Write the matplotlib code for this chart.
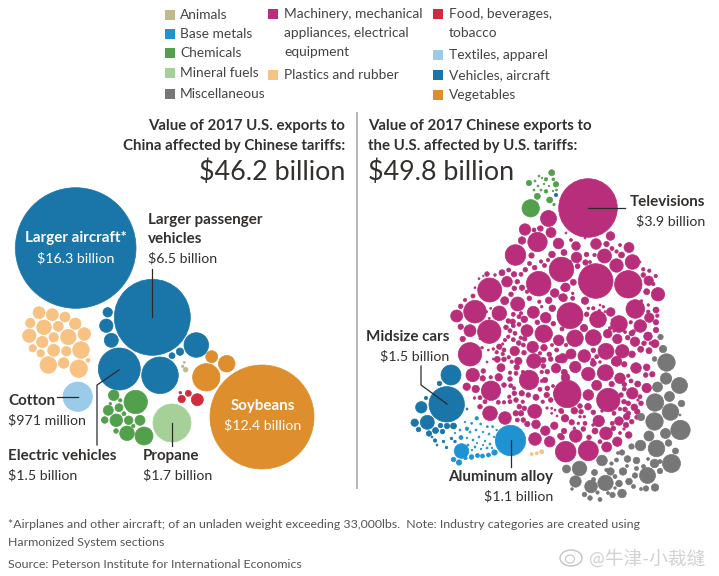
import matplotlib
matplotlib.use("Agg")
import matplotlib.pyplot as plt
from matplotlib.patches import Circle, Ellipse, Rectangle

plt.rcParams["font.family"] = ["Lato", "Noto Sans CJK SC", "DejaVu Sans"]

# bubbles as (x, y, r) in image pixels
aircraft_left = [
    (75.7, 248, 60.3), (152.3, 317.3, 38), (119.3, 369, 21), (160, 375.3, 18.3), (196.3, 345, 12.3),
    (107.7, 312.3, 4.7), (106.3, 325.7, 6.7), (111.3, 340.3, 7), (172, 355.7, 3), (180, 351.7, 3.7),
]
vegetables_left = [(262, 417, 52), (206.3, 377.3, 13.7), (226.7, 363.7, 8.3), (211.7, 356.7, 6)]
food_left = [(197.3, 399.7, 6), (181.7, 399, 3.7), (188.3, 393.3, 3), (180.3, 392.7, 1.3)]
textiles_left = [(77.7, 396.7, 14.7)]
fuels_left = [(172, 423, 19)]
animals_left = [(184.3, 362.3, 1), (182.7, 366.3, 1.3), (185.7, 369.7, 2.3)]
chemicals_left = [
    (135.7, 402, 11.7), (144, 436, 9), (127, 433.3, 7.3), (116.3, 420.3, 6.3), (113.7, 395.3, 5.3),
    (108.3, 410.3, 5), (119, 407.7, 4), (104.7, 420, 3.3), (128.7, 420.3, 4.3), (140, 420.3, 5),
    (116, 431, 2.3), (124, 413.7, 2), (120.3, 400.3, 1.7), (110.3, 403.7, 1.3), (133.3, 426, 1.7),
]
plastics_left = [
    (39, 312.7, 6), (52.3, 314.7, 6), (65, 317, 5), (30.3, 323, 4.7), (75.3, 323.7, 5.7),
    (44, 327.3, 7.3), (58.3, 326.3, 5), (29.3, 335.7, 6.7), (84.3, 334, 6.3), (68.3, 337, 7.7),
    (42.3, 342, 5.7), (53.7, 337.3, 4.7), (32.7, 348.3, 3.7), (53.7, 350.3, 6), (66.3, 351.3, 4.7),
    (40.7, 353.3, 3.7), (81, 350, 8.3), (48.3, 365, 8.3), (63.7, 363, 5.3), (78.7, 368.7, 8.7),
    (88, 360.3, 2),
]

# machinery, top of the heap
machinery_top = [
    (588, 208, 29.3), (548.5, 218.5, 8), (525, 229.5, 5.7), (537.5, 242, 9.7), (551, 232.5, 5),
    (522, 240.5, 3.7), (558.5, 243.5, 5.3), (540.5, 228.5, 2.7), (534, 230, 2), (515.5, 255, 10.3),
    (576, 246, 4.3), (596, 244, 5.3), (610.5, 236, 4.3), (606.5, 244, 2.7), (629, 247.5, 5),
    (604.5, 256, 7), (632.5, 262, 7.3), (616.5, 265.5, 6.7), (576.5, 257.5, 5.3), (561.5, 269.5, 12.3),
    (552, 254.5, 3.3), (564, 252.5, 3), (531.5, 255.5, 2.7), (586.5, 254.5, 2.3), (621.5, 255, 3),
    (529.5, 263.5, 2), (541, 261.5, 1.7), (548, 260, 1.7), (544.5, 265.5, 2), (585.5, 262.5, 2.7),
    (594.5, 255, 1.7), (586.5, 270, 1.7), (612, 248.5, 2), (616.5, 251.5, 1.7), (577.5, 266.5, 2),
    (538.5, 228, 1.2), (566, 233, 1), (571, 240, 1.5), (585, 238, 1), (620, 245, 1.5),
    (570, 262, 1.5), (590, 262, 1.5), (640, 262, 1),
]
# upper left block
machinery_a = [
    (489.7, 290, 12), (538.7, 283.7, 12.3), (475, 311.7, 11.3), (499.3, 313.3, 7.3), (517.7, 304, 7),
    (489.3, 331.7, 11.7), (470, 354.3, 11.7), (470, 330.7, 6), (533.3, 312.3, 6), (545.7, 317.7, 5.3),
    (543.7, 333.7, 8.7), (527, 330.7, 6), (558.7, 340.3, 5.3), (532.7, 347, 5.7), (507, 281.7, 5.3),
    (504.7, 300.7, 4), (554.7, 293, 4.3), (548.7, 300.3, 3.3), (552.3, 308.3, 3.3), (561.7, 297.3, 3),
    (564, 287.7, 3.3), (502, 272.7, 3), (508.7, 270, 2), (514, 274.3, 2.7), (521, 274.3, 2),
    (525.3, 269.7, 2.3), (534.7, 267.7, 2.3), (517.3, 281.7, 2.3), (522, 287.7, 2.7), (514.3, 288.3, 2.3),
    (511, 294.3, 2.3), (487, 274, 2.3), (495, 275, 1.3), (473, 296, 2), (465, 300, 1.7),
    (460.7, 306.3, 2.3), (475, 287.7, 1), (479, 278.7, 1), (483.3, 276, 0.8), (529.3, 298.3, 2.3),
    (527, 291.7, 1.7), (539.3, 301.7, 1.7), (541.7, 306.7, 1.3), (513.3, 314.3, 2), (521, 313.3, 1.7),
    (519, 316.7, 2), (524.3, 319.3, 3.3), (512.7, 321.7, 2.7), (508.3, 321, 2.3), (506, 327.3, 2.3),
    (513.3, 325.7, 2), (519, 324.3, 2), (537.3, 322.3, 2.3), (553.3, 323.7, 2.3), (559, 318.3, 1.7),
    (510, 330.7, 2), (515, 333.3, 2), (508.3, 336.7, 1.7), (520.7, 337.7, 1.7), (513.3, 339.7, 2),
    (518.7, 343, 2.3), (524.7, 338.7, 2.3), (523.3, 345, 2), (505, 340, 1.7), (502.7, 344, 1.2),
    (499.3, 346.7, 2.7), (504, 350, 2), (514.7, 351, 4.7), (524, 352.7, 2.3), (496.7, 352.3, 1.7),
    (502.7, 354, 1.7), (497.3, 359.3, 3), (504, 359.3, 2.3), (508.7, 357.3, 1.7), (511.7, 361.7, 1.7),
    (518.3, 361, 3.7), (534, 361, 7.3), (544, 347.7, 3.3), (549.3, 354.3, 2.3), (540, 353.3, 1.7),
    (543.3, 360, 2.7), (550.7, 359, 2.3), (559, 359, 3.7), (556.7, 350, 2), (552, 345, 1.5),
    (482, 347.7, 1.3), (488.3, 350, 1), (493.3, 349, 1.3), (486.7, 311.7, 1), (490.7, 308.3, 1),
    (489.3, 318.3, 1), (480, 338.7, 1), (462.7, 339, 2.7), (460.7, 326.7, 2.7), (456.7, 316, 6),
    (493.3, 359, 1), (487, 362, 1),
]
# upper right block
machinery_b = [
    (595.7, 281, 17.3), (628.3, 284.3, 13.7), (635.3, 309, 9.3), (570, 315.7, 13), (598, 319.3, 8.3),
    (619, 324, 8.3), (658, 294.3, 6.7), (648.7, 280.7, 4.7), (646.7, 291.7, 3), (585, 300.7, 3.7),
    (565.7, 287.3, 4.3), (573.3, 282.3, 3), (563.3, 297.7, 4), (572.7, 298.3, 2), (572.7, 293.3, 1.3),
    (610.7, 312, 4.3), (649.3, 317.7, 4.7), (640.3, 326, 6.3), (648, 336.3, 4.3), (635, 341.7, 4.7),
    (617.3, 339, 4.7), (607.7, 333.7, 4.3), (593.3, 337.7, 8), (575, 338.3, 8.3), (584, 328, 3.7),
    (622.3, 351.3, 6.7), (606, 351.3, 8), (584.3, 356, 6.3), (571, 354, 5), (655, 343.7, 4),
    (640.7, 349.3, 3), (649, 350.7, 3), (632, 354.3, 3.3), (616.7, 361.3, 5), (593.3, 350.3, 2.3),
    (596.7, 356.7, 2), (592.7, 360, 1.7), (562.7, 358.3, 4.7), (656, 322.3, 2.7), (656, 330, 2.7),
    (657.3, 315.7, 1.7), (656, 310, 3), (648.3, 311.7, 1.7), (648.3, 305, 1.3), (630.7, 322.3, 1.7),
    (633.3, 331.7, 2), (631.7, 333.3, 2.7), (593.3, 308.3, 1.7), (603.3, 306.7, 1.3), (600, 305, 1),
    (605, 311.7, 1), (599.3, 310.7, 1.3), (586.7, 314.3, 2.3), (588.3, 308.3, 1.3), (610, 328.3, 1.7),
    (627.7, 337.7, 2.3), (644, 343.3, 2.3), (650.7, 343.3, 1.7), (643.3, 275, 2.3), (643.3, 269.3, 1.7),
    (649.3, 270.7, 1.7), (655.7, 276, 1.7), (653.3, 284, 1.7), (577.7, 266, 2.3), (642.7, 305, 1),
    (641.5, 301, 1.3), (612, 320, 1), (631, 313, 1), (625, 332, 1.5), (614, 331, 1.2),
    (562, 329, 2), (566, 345, 1.7),
]
# lower left block
machinery_c = [
    (529, 380, 9.7), (491, 390.7, 9.7), (472.7, 375, 6.7), (490, 413.3, 7.3), (505, 418, 6.3),
    (534.7, 411.3, 7), (535, 439, 6.3), (549.7, 441.7, 5.3), (545.3, 430.7, 4.7), (536, 424.3, 4.3),
    (554.3, 425.7, 3.7), (466.7, 386.7, 3.7), (475.7, 389, 3.7), (482.7, 378.3, 2.7), (483.3, 371, 2.3),
    (498.7, 377.3, 3.7), (501, 367.7, 4), (490.7, 377.3, 1.7), (504, 385, 2.3), (510.7, 385.7, 2),
    (510, 379, 2.3), (516, 373.3, 2), (510, 372.7, 1.7), (516.7, 367.3, 2.7), (514.3, 393.3, 2.3),
    (514, 388.3, 1.7), (498.3, 402.3, 2), (504, 402.3, 1.7), (510, 401.7, 2), (516, 400, 2.3),
    (522.7, 401.7, 1.7), (509.3, 396.7, 1.7), (521.7, 393.3, 2.7), (528.3, 395, 2.3), (536, 397.3, 3),
    (540, 389.3, 2), (546.7, 395, 2.7), (547.3, 388.3, 2.3), (545, 380, 2.7), (550.7, 400, 2.3),
    (542.7, 401.7, 1.7), (519.3, 406.7, 2.3), (524.3, 408.3, 2.3), (515.7, 413.3, 2.7), (521, 413.3, 2.7),
    (517.3, 420, 2), (523.3, 420, 2.3), (527.3, 424, 2.7), (485, 401.7, 2), (480, 397.7, 2),
    (480, 406.7, 2.3), (474.5, 398, 1.3), (556, 368.3, 4.7), (561.7, 437.3, 2.7), (547.3, 371.7, 2.3),
    (543.3, 366, 2.3), (565.5, 377.5, 4.3), (561.7, 411.7, 2), (551.7, 408.3, 1), (555, 410, 1),
    (551.7, 413.3, 1), (557, 416, 1), (547, 408, 1.2), (541.7, 372, 1.7), (553, 386, 1.5),
    (555, 393, 1.5), (523, 372, 1.7), (541.7, 381, 1.5),
]
# lower right block
machinery_d = [
    (567.3, 394, 13.7), (608.3, 400, 11.7), (575.3, 367, 5.7), (588.3, 374, 6.7), (605.3, 372.7, 8),
    (620, 378.3, 5.3), (636, 368, 5.3), (596.7, 385.3, 5), (588.3, 395, 5.3), (632.3, 393.3, 5.7),
    (646.7, 388, 4.7), (598.7, 421, 5.7), (619, 421, 4.3), (606, 433.3, 6.3), (617.3, 441.7, 4.7),
    (606.7, 447, 5), (575.7, 436, 6.3), (588.3, 450.7, 10), (565.7, 451.7, 10.3), (588, 406.7, 3.3),
    (565, 418.3, 3.7), (574.3, 410.7, 3.3), (628.7, 435, 3.3), (634.3, 407.3, 3.3), (564.3, 372.3, 3),
    (593.3, 363.3, 3), (615, 361.7, 3.7), (624.3, 364.3, 2.7), (646.7, 367.3, 3.3), (652.3, 374.3, 2.7),
    (645.7, 375, 2.3), (637.7, 384, 3), (628.3, 375.7, 1.7), (631, 381, 2), (624.3, 384.3, 2.3),
    (611.7, 384, 2.7), (624.3, 389, 2), (621, 395, 2.3), (624, 401.7, 2.3), (628.3, 403.3, 2.3),
    (641, 403.3, 2.3), (640, 396.7, 2), (580, 406, 2.3), (581, 411.7, 2.3), (593.3, 412.3, 2.3),
    (584.3, 416.7, 1.3), (580, 416.7, 1.3), (620, 409, 1.7), (614, 413.3, 2), (625, 409.3, 2.3),
    (628.3, 413.3, 2.3), (626.7, 416.7, 3.3), (636.7, 417.3, 2), (631.7, 421.7, 2.3), (626, 425, 2.7),
    (613.3, 428.3, 2.3), (612.3, 423.3, 2), (595, 431, 3), (600, 441.7, 2), (589, 437.3, 2.3),
    (583.3, 429, 2.3), (585, 423.3, 2), (571.7, 422.3, 2.7), (564, 431, 2.7), (560.3, 436, 2.7),
    (561, 410.7, 2.3), (574.3, 428.3, 1.3), (578.3, 423.3, 1.3), (637.3, 411.7, 2.7), (593, 425, 1.3),
    (602, 411, 1.3), (638, 400, 1.2), (600, 362, 1.3), (620, 433, 1.5), (624, 429, 1.2),
]
vehicles_right = [
    (446.7, 404.3, 17.7), (451, 375, 10), (421.3, 407.3, 5.7), (427.3, 422.3, 7), (414.7, 422.7, 3.7),
    (418.5, 429.5, 2.3), (429, 433.5, 2.7), (435.5, 430.5, 3), (442.5, 431.5, 2.3), (440.5, 425.5, 2.3),
    (447, 426, 2.7), (453.5, 426, 3), (439.5, 383.5, 2.3), (426, 398, 1.7), (467, 409, 1),
    (435, 440.5, 1.7), (442.5, 432.5, 1.3), (443.5, 441.5, 1.3), (451.5, 438.5, 1.3), (446.5, 447.5, 1.3),
    (455, 441.5, 1.3), (432, 437, 1), (437, 445, 1),
]
metals_right = [
    (510.5, 440.5, 15.2), (461.5, 451, 7.3), (494.5, 452.5, 2.7), (488.5, 455, 2), (482.5, 456, 2),
    (477.5, 455.5, 2), (471.5, 457, 2.3), (465.5, 458, 1.7), (459, 462.5, 2.7), (453.5, 459.5, 2.3),
    (461, 437.5, 2), (467, 428.7, 1.7), (476.7, 418.3, 1.7), (471.7, 423.3, 1), (480.7, 424, 1),
    (487.3, 426.7, 1), (492.7, 426.7, 1), (496.7, 430, 0.8), (465, 422, 0.8), (470, 432, 1),
    (476, 430, 1), (483, 432, 0.8), (489, 434, 1), (494, 437, 0.8), (467, 438, 0.8),
    (473, 440, 1), (479, 437, 1), (485, 441, 0.8), (490, 444, 1), (475, 447, 1),
    (481, 449, 0.8), (468, 445, 1), (487, 448, 1), (492, 448, 0.8), (460, 430, 1),
    (455, 433, 0.8), (477, 443, 0.7), (483, 445, 0.7), (472, 450, 0.8), (466, 451, 0.7),
]
chemicals_right = [
    (530.7, 208.3, 8.7), (537.3, 196.3, 3), (549.7, 200, 3), (551.7, 172.7, 3), (556, 184.3, 2.7),
    (529, 183, 2.7), (546, 191.3, 1.8), (546, 179.3, 1.7), (553.3, 179.3, 1.4), (539, 176, 1),
    (535, 181, 1), (542, 178, 0.8), (538, 186, 1), (534, 190, 1), (541, 190, 1),
    (556.5, 190, 1), (553, 191, 0.8), (544, 184, 0.8), (554, 204.5, 1.2), (549, 186, 0.8),
]
metals_top = [(556, 195, 1.7)]
plastics_right = [(541.7, 451.7, 2), (536.7, 453.3, 1.5), (531.7, 454, 1.5)]
misc_right = [
    (666.5, 362.5, 8.7), (679.5, 385.5, 8), (666, 378.5, 5.7), (657.5, 387, 5), (669.5, 396.5, 5),
    (655, 402.5, 8.7), (670.5, 412, 8.3), (680.5, 430, 9.7), (654.5, 421.5, 8.7), (681.5, 403.5, 3.3),
    (649, 436, 5), (665.5, 433.5, 5), (641, 417, 3.7), (640.5, 445.5, 5.3), (656.5, 448.5, 8.3),
    (668.5, 443, 3.3), (675.5, 451, 3), (671.5, 463.5, 9), (654.5, 463.5, 4.3), (647.5, 475.5, 8),
    (660, 471, 2.7), (655, 487.5, 3.7), (646, 488.5, 2.7), (660.5, 337, 2.7), (663, 349, 3.7),
    (654.5, 359, 2.3), (579.5, 468.5, 7.3), (566.5, 469, 4), (575.5, 481.5, 5.7), (591, 486.5, 6.3),
    (605.5, 483, 7.7), (602, 460.5, 5.3), (594.5, 472.5, 3), (610.5, 471.5, 3.7), (623, 471.5, 3.7),
    (627.5, 459, 3.3), (636.5, 460.5, 3.3), (622, 452.5, 2.7), (631.5, 446.5, 2.7), (619, 483.5, 3.3),
    (629, 481.5, 3.3), (622, 493.5, 4.3), (600, 499.5, 2), (584.5, 494.5, 2.3), (590, 498, 2.3),
    (597.5, 492.5, 1.7), (612.5, 495, 2.7), (635, 475.5, 2.7), (636.5, 468.5, 2), (633.5, 486.5, 2),
    (616.5, 460, 2), (611.5, 463.5, 1.7), (606.5, 470, 1.7), (593.5, 479.5, 2), (615, 476.5, 2),
    (643.5, 466.5, 2), (660, 461.5, 2), (641, 489, 1.5), (608, 493, 1.5), (615, 488, 1.3),
    (572, 489, 1.3), (627, 466, 1.5), (618, 453, 1.5), (648, 459, 1.5), (680, 415, 1),
]

legend_left = ["Animals", "Base metals", "Chemicals", "Mineral fuels", "Miscellaneous"]
legend_right = ["Textiles, apparel", "Vehicles, aircraft", "Vegetables"]

AIRCRAFT = "#1a75a9"
METALS = "#1f93d2"
CHEM = "#53a04c"
FUEL = "#a5d199"
MISC = "#777777"
MACH = "#b92e7b"
PLASTIC = "#f8c282"
FOOD = "#cf2d3e"
TEXTILE = "#9ccae9"
VEG = "#df8e2d"
ANIMAL = "#bfb98c"
DARK = "#33302e"

fig = plt.figure(figsize=(7.19, 5.76), dpi=100)
ax = fig.add_axes([0, 0, 1, 1])
ax.set_xlim(0, 719)
ax.set_ylim(576, 0)
ax.axis("off")


def bubbles(items, color):
    for x, y, r in items:
        # thin edge of the same colour, the reference is soft and reads a bit fuller
        ax.add_patch(Circle((x, y), r, fc=color, ec=color, lw=0.5))


groups = [
    (aircraft_left, AIRCRAFT), (vegetables_left, VEG), (food_left, FOOD), (textiles_left, TEXTILE),
    (fuels_left, FUEL), (animals_left, ANIMAL), (chemicals_left, CHEM), (plastics_left, PLASTIC),
    (machinery_top, MACH), (machinery_a, MACH), (machinery_b, MACH), (machinery_c, MACH), (machinery_d, MACH),
    (vehicles_right, AIRCRAFT), (metals_right, METALS), (chemicals_right, CHEM), (metals_top, AIRCRAFT),
    (plastics_right, PLASTIC), (misc_right, MISC),
]
for items, color in groups:
    bubbles(items, color)


def label(x, y, s, ha="left", bold=False, size=10.2, color=DARK):
    ax.text(x, y, s, ha=ha, va="center", fontsize=size, color=color,
            fontweight="bold" if bold else "normal")


def swatch(x, y, color):
    ax.add_patch(Rectangle((x, y - 5), 10, 10, color=color, lw=0))


# legend
for name, col, y in zip(legend_left, [ANIMAL, METALS, CHEM, FUEL, MISC], [15, 34, 53, 73, 94]):
    swatch(165, y, col)
    label(180, y, name, size=9.9, color="#444444")
swatch(268, 14, MACH)
label(284, 14, "Machinery, mechanical", size=9.9, color="#444444")
label(284, 33, "appliances, electrical", size=9.9, color="#444444")
label(284, 52, "equipment", size=9.9, color="#444444")
swatch(268, 75, PLASTIC)
label(284, 75, "Plastics and rubber", size=9.9, color="#444444")
swatch(433, 14, FOOD)
label(449, 14, "Food, beverages,", size=9.9, color="#444444")
label(449, 33, "tobacco", size=9.9, color="#444444")
for name, col, y in zip(legend_right, [TEXTILE, AIRCRAFT, VEG], [55, 75, 95]):
    swatch(433, y, col)
    label(449, y, name, size=9.9, color="#444444")

# headers
ax.plot([357, 357], [113, 488], color="#b5b5b5", lw=1.4)
label(345, 126, "Value of 2017 U.S. exports to", ha="right", bold=True, size=10.8)
label(345, 146, "China affected by Chinese tariffs:", ha="right", bold=True, size=10.8)
label(345, 172, "$46.2 billion", ha="right", size=19.4)
label(368, 126, "Value of 2017 Chinese exports to", bold=True, size=10.8)
label(368, 146, "the U.S. affected by U.S. tariffs:", bold=True, size=10.8)
label(368, 172, "$49.8 billion", size=19.4)

# leader lines
leaders = [
    ([152, 152], [269, 317]), ([57, 78], [397, 397]), ([97, 97, 119], [445, 385, 370]),
    ([172, 172], [423, 446]), ([588, 625], [208, 208]), ([421, 421, 447], [366, 385, 404]),
    ([511, 511], [440, 467]),
]
for xs, ys in leaders:
    ax.plot(xs, ys, color="#2b2b2b", lw=0.9)

# callouts
label(76, 238, "Larger aircraft*", ha="center", bold=True, size=10.9, color="white")
label(76, 258, "$16.3 billion", ha="center", color="white")
label(148, 220, "Larger passenger", bold=True, size=10.9)
label(148, 239, "vehicles", bold=True, size=10.9)
label(148, 258, "$6.5 billion")
label(8, 401, "Cotton", bold=True, size=10.9)
label(8, 420, "$971 million")
label(8, 456, "Electric vehicles", bold=True, size=10.9)
label(8, 475, "$1.5 billion")
label(143, 456, "Propane", bold=True, size=10.9)
label(143, 475, "$1.7 billion")
label(263, 406, "Soybeans", ha="center", bold=True, size=10.9, color="white")
label(263, 425, "$12.4 billion", ha="center", color="white")
label(705, 202, "Televisions", ha="right", bold=True, size=10.9)
label(705, 221, "$3.9 billion", ha="right")
label(449, 337, "Midsize cars", ha="right", bold=True, size=10.9)
label(449, 356, "$1.5 billion", ha="right")
label(553, 477, "Aluminum alloy", ha="right", bold=True, size=10.9)
label(553, 496, "$1.1 billion", ha="right")

# footer
label(8, 525, "*Airplanes and other aircraft; of an unladen weight exceeding 33,000lbs.  Note: Industry categories are created using", size=8.9, color="#555555")
label(8, 543, "Harmonized System sections", size=8.9, color="#555555")
label(8, 564, "Source: Peterson Institute for International Economics", size=8.9, color="#555555")

# watermark
ax.add_patch(Ellipse((571, 558), 22, 16, fill=False, ec="#c4c4c4", lw=1))
ax.add_patch(Ellipse((570, 559), 9, 8, fill=False, ec="#c4c4c4", lw=0.8))
ax.text(589, 558, "@牛津-小裁缝", ha="left", va="center", fontsize=13.5, color="#d2d2d2")

fig.savefig("out.png", dpi=100)
